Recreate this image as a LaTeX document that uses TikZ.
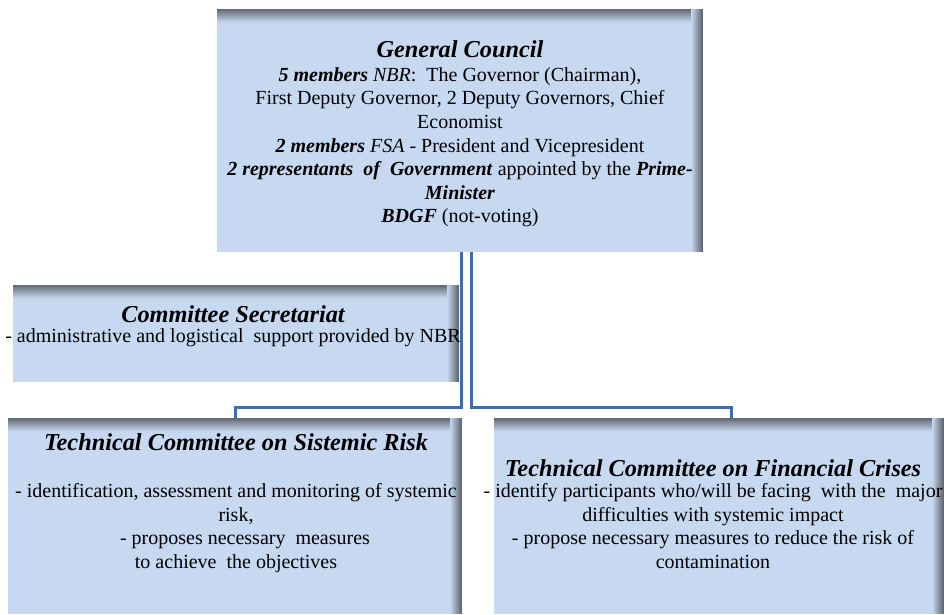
\documentclass[tikz,border=0pt]{standalone}
\usepackage{fontspec}
\setmainfont{Liberation Serif}
\definecolor{boxblue}{RGB}{198,217,241}
\definecolor{lineblue}{RGB}{66,108,162}
\definecolor{shadowgray}{RGB}{98,104,114}
\tikzset{
  box/.style={fill=boxblue, draw=none, inner sep=0pt, outer sep=0pt},
  txt/.style={align=center, inner sep=0pt, font=\fontsize{20}{23.6}\selectfont},
  conn/.style={draw=lineblue, line width=3pt},
  dbl/.style={draw=lineblue, line width=3pt, double=white, double distance=7pt}
}
\newcommand{\ttl}[1]{{\fontsize{24.3}{27}\selectfont\bfseries\itshape #1}}
\newcommand{\boxshadow}[1]{%
  \foreach \i [evaluate=\i as \p using {100-7.5*\i}] in {0,...,13} {
    \fill[shadowgray!\p!boxblue] ([yshift={-\i*1pt}]#1.north west) rectangle ([yshift={-(\i+1.5)*1pt}]#1.north east);
  }
  \foreach \i [evaluate=\i as \p using {100-9*\i}] in {0,...,11} {
    \fill[shadowgray!\p!boxblue] ([xshift={-\i*1pt}]#1.north east) rectangle ([xshift={-(\i+1.5)*1pt}]#1.south east);
  }
}
\begin{document}
\begin{tikzpicture}[x=1pt,y=-1pt]
\useasboundingbox[fill=white] (0,0) rectangle (944,614);
% boxes
\node[box, minimum width=486pt, minimum height=243pt] (gc) at (460,130.5) {};
\node[box, minimum width=446pt, minimum height=97pt] (sec) at (236,333.5) {};
\node[box, minimum width=454pt, minimum height=196pt] (tcr) at (235,516) {};
\node[box, minimum width=450pt, minimum height=196pt] (tcf) at (719,516) {};
\boxshadow{gc}
\boxshadow{sec}
\boxshadow{tcr}
\boxshadow{tcf}
% texts
\node[txt] (gct) at (460,134) {\ttl{General Council}\\
\textbf{\textit{5 members}} \textit{NBR}:~ The Governor (Chairman),\\
First Deputy Governor, 2 Deputy Governors, Chief\\
Economist\\
\textbf{\textit{2 members}} \textit{FSA} - President and Vicepresident\\
\textbf{\textit{2 representants~ of~ Government}} appointed by the \textbf{\textit{Prime-}}\\
\textbf{\textit{Minister}}\\
\textbf{\textit{BDGF}} (not-voting)};
\node[txt] (sect) at (233,326) {\ttl{Committee Secretariat}\\[-4pt]
- administrative and logistical~ support provided by NBR};
\node[txt] (tcrt) at (236,503) {\ttl{Technical Committee on Sistemic Risk}\\[24pt]
- identification, assessment and monitoring of systemic\\
risk,\\
\hspace*{18pt}- proposes necessary~ measures\\
to achieve~ the objectives};
\node[txt] (tcft) at (713,514) {\ttl{Technical Committee on Financial Crises}\\[-2pt]
- identify participants who/will be facing~ with the~ major\\
difficulties with systemic impact\\
- propose necessary measures to reduce the risk of\\
contamination};
% connectors
\coordinate (bar) at (466,407);
\coordinate (rdrop) at (731,418);
\draw[conn] (tcr.north) |- (bar) -| (rdrop);
\draw[dbl] (gc.south -| bar) -- ([yshift=-1.5pt]bar);
\end{tikzpicture}
\end{document}
